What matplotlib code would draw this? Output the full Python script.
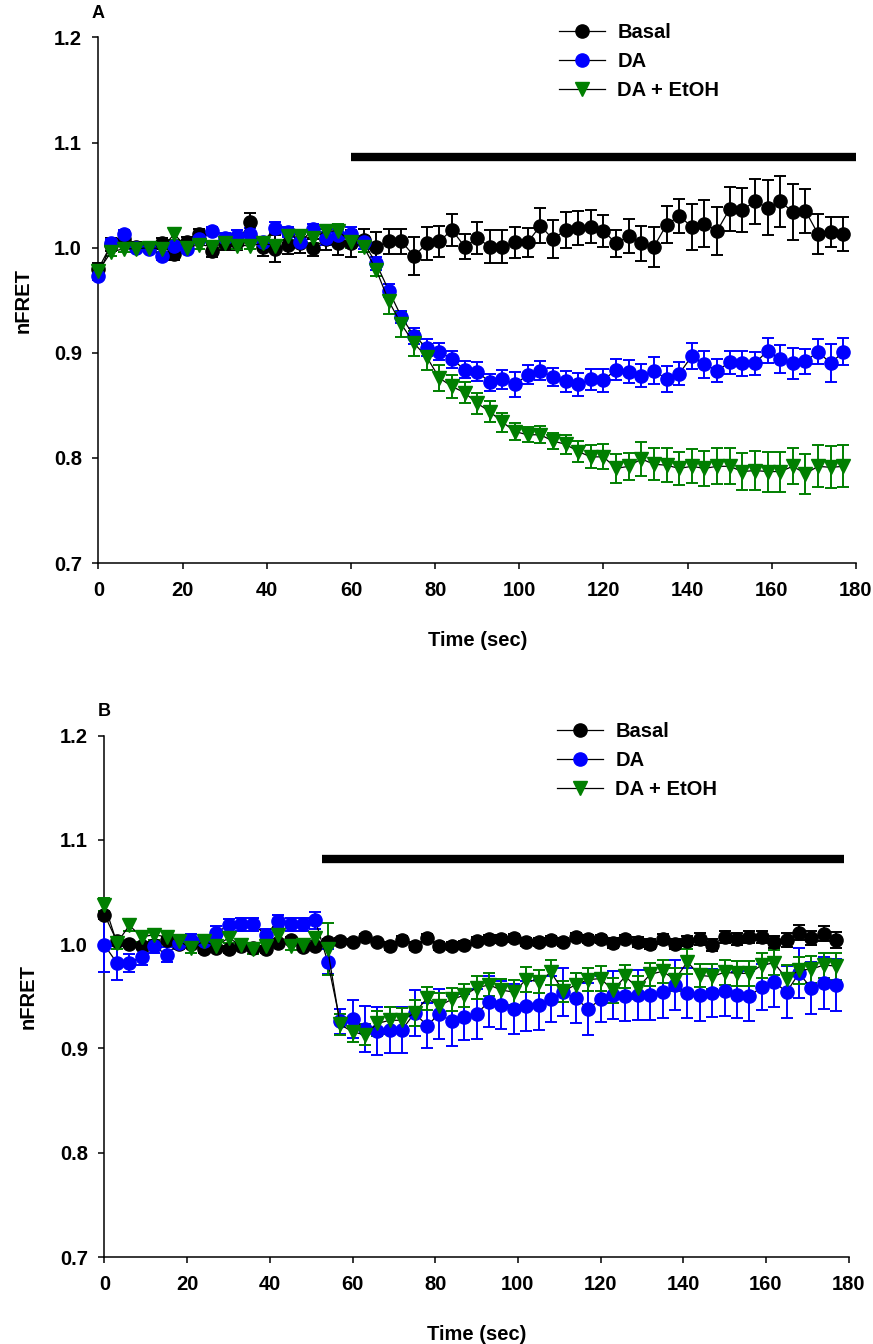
import numpy as np
import matplotlib
matplotlib.use("Agg")
import matplotlib.pyplot as plt

plt.rcParams["font.family"] = ["Liberation Sans", "DejaVu Sans"]
plt.rcParams["font.weight"] = "bold"

# sampling times (s), one reading every 3 s
TIME = [0, 3, 6, 9, 12, 15, 18, 21, 24, 27, 30, 33, 36, 39, 42, 45, 48, 51, 54, 57,
        60, 63, 66, 69, 72, 75, 78, 81, 84, 87, 90, 93, 96, 99, 102, 105, 108, 111, 114, 117,
        120, 123, 126, 129, 132, 135, 138, 141, 144, 147, 150, 153, 156, 159, 162, 165, 168, 171, 174, 177]

LABELS = ["Basal", "DA", "DA + EtOH"]

# panel A
A_BASAL = [0.980, 1.003, 1.008, 1.001, 1.000, 1.004, 0.994, 1.005, 1.013, 0.997,
           1.004, 1.005, 1.024, 1.001, 0.999, 1.003, 1.004, 1.000, 1.008, 1.004,
           1.004, 1.007, 1.001, 1.006, 1.006, 0.992, 1.004, 1.006, 1.017, 1.001,
           1.009, 1.001, 1.001, 1.005, 1.005, 1.021, 1.008, 1.017, 1.019, 1.020,
           1.016, 1.004, 1.011, 1.004, 1.001, 1.022, 1.030, 1.020, 1.023, 1.016,
           1.037, 1.036, 1.044, 1.038, 1.044, 1.034, 1.035, 1.013, 1.015, 1.013]
A_BASAL_SE = [0.005, 0.006, 0.006, 0.004, 0.004, 0.005, 0.006, 0.005, 0.005, 0.006,
              0.006, 0.007, 0.009, 0.009, 0.013, 0.009, 0.009, 0.008, 0.010, 0.011,
              0.013, 0.011, 0.014, 0.012, 0.012, 0.018, 0.016, 0.015, 0.015, 0.012,
              0.015, 0.016, 0.016, 0.015, 0.014, 0.017, 0.018, 0.017, 0.016, 0.016,
              0.015, 0.013, 0.016, 0.017, 0.019, 0.018, 0.016, 0.022, 0.022, 0.023,
              0.021, 0.021, 0.021, 0.026, 0.024, 0.027, 0.021, 0.019, 0.014, 0.016]
A_DA = [0.973, 1.004, 1.013, 1.000, 0.999, 0.992, 1.002, 0.999, 1.008, 1.016,
        1.009, 1.011, 1.013, 1.005, 1.019, 1.015, 1.005, 1.018, 1.009, 1.012,
        1.013, 1.005, 0.985, 0.959, 0.934, 0.916, 0.905, 0.901, 0.894, 0.884,
        0.882, 0.872, 0.875, 0.870, 0.879, 0.883, 0.877, 0.873, 0.870, 0.875,
        0.874, 0.884, 0.882, 0.878, 0.883, 0.875, 0.880, 0.897, 0.889, 0.883,
        0.891, 0.890, 0.890, 0.902, 0.894, 0.890, 0.892, 0.901, 0.890, 0.901]
A_DA_SE = [0.004, 0.004, 0.004, 0.003, 0.003, 0.004, 0.004, 0.004, 0.004, 0.004,
           0.005, 0.006, 0.006, 0.005, 0.005, 0.005, 0.004, 0.005, 0.006, 0.006,
           0.007, 0.006, 0.006, 0.006, 0.006, 0.008, 0.008, 0.008, 0.008, 0.008,
           0.009, 0.008, 0.009, 0.012, 0.009, 0.009, 0.009, 0.010, 0.011, 0.010,
           0.011, 0.010, 0.011, 0.011, 0.013, 0.012, 0.011, 0.012, 0.013, 0.011,
           0.011, 0.012, 0.011, 0.012, 0.013, 0.015, 0.012, 0.012, 0.018, 0.013]
A_ETOH = [0.978, 0.996, 0.999, 0.999, 1.000, 0.999, 1.013, 1.000, 1.003, 1.001,
          1.004, 1.002, 1.002, 1.004, 1.002, 1.011, 1.011, 1.009, 1.016, 1.016,
          1.005, 1.001, 0.979, 0.949, 0.927, 0.909, 0.896, 0.876, 0.868, 0.862,
          0.852, 0.844, 0.834, 0.825, 0.822, 0.822, 0.816, 0.813, 0.806, 0.801,
          0.801, 0.790, 0.792, 0.799, 0.794, 0.793, 0.790, 0.792, 0.790, 0.792,
          0.792, 0.787, 0.788, 0.787, 0.787, 0.792, 0.785, 0.792, 0.791, 0.792]
A_ETOH_SE = [0.006, 0.004, 0.003, 0.003, 0.003, 0.003, 0.006, 0.003, 0.004, 0.003,
             0.004, 0.003, 0.003, 0.004, 0.003, 0.004, 0.004, 0.005, 0.006, 0.007,
             0.005, 0.005, 0.006, 0.012, 0.012, 0.012, 0.012, 0.012, 0.011, 0.010,
             0.010, 0.010, 0.009, 0.008, 0.007, 0.008, 0.008, 0.009, 0.010, 0.011,
             0.012, 0.014, 0.013, 0.016, 0.015, 0.016, 0.016, 0.016, 0.017, 0.017,
             0.017, 0.018, 0.019, 0.019, 0.019, 0.017, 0.019, 0.020, 0.020, 0.020]

# panel B
B_BASAL = [1.028, 1.003, 1.000, 0.998, 0.999, 1.004, 1.000, 1.000, 0.995, 0.996,
           0.995, 0.998, 0.996, 0.995, 1.001, 1.004, 0.997, 0.998, 1.002, 1.003,
           1.002, 1.007, 1.002, 0.998, 1.004, 0.998, 1.006, 0.998, 0.998, 0.999,
           1.003, 1.005, 1.005, 1.006, 1.002, 1.002, 1.004, 1.002, 1.007, 1.005,
           1.005, 1.001, 1.005, 1.002, 1.000, 1.005, 1.000, 1.003, 1.005, 0.999,
           1.007, 1.005, 1.007, 1.007, 1.002, 1.004, 1.011, 1.006, 1.010, 1.004]
B_BASAL_SE = [0.004, 0.004, 0.003, 0.003, 0.003, 0.003, 0.003, 0.003, 0.003, 0.003,
              0.003, 0.003, 0.003, 0.003, 0.003, 0.003, 0.003, 0.003, 0.003, 0.003,
              0.003, 0.003, 0.003, 0.004, 0.004, 0.004, 0.004, 0.004, 0.004, 0.004,
              0.004, 0.004, 0.004, 0.004, 0.004, 0.004, 0.004, 0.004, 0.004, 0.004,
              0.004, 0.005, 0.004, 0.005, 0.005, 0.005, 0.005, 0.005, 0.006, 0.006,
              0.006, 0.006, 0.006, 0.006, 0.006, 0.007, 0.007, 0.007, 0.007, 0.008]
B_DA = [0.999, 0.982, 0.982, 0.988, 0.998, 0.990, 1.001, 1.004, 1.003, 1.011,
        1.018, 1.019, 1.019, 1.009, 1.022, 1.019, 1.019, 1.023, 0.983, 0.926,
        0.928, 0.919, 0.917, 0.918, 0.918, 0.934, 0.922, 0.933, 0.926, 0.930,
        0.933, 0.945, 0.942, 0.938, 0.941, 0.942, 0.947, 0.954, 0.948, 0.938,
        0.947, 0.951, 0.950, 0.951, 0.951, 0.954, 0.961, 0.953, 0.951, 0.953,
        0.955, 0.951, 0.950, 0.959, 0.964, 0.954, 0.972, 0.958, 0.963, 0.961]
B_DA_SE = [0.026, 0.016, 0.009, 0.008, 0.006, 0.007, 0.006, 0.006, 0.006, 0.006,
           0.006, 0.006, 0.006, 0.006, 0.006, 0.006, 0.006, 0.008, 0.012, 0.012,
           0.018, 0.022, 0.023, 0.022, 0.022, 0.022, 0.022, 0.024, 0.024, 0.022,
           0.024, 0.024, 0.023, 0.024, 0.024, 0.024, 0.022, 0.023, 0.024, 0.025,
           0.022, 0.023, 0.024, 0.024, 0.024, 0.025, 0.024, 0.024, 0.025, 0.023,
           0.024, 0.022, 0.024, 0.022, 0.024, 0.025, 0.024, 0.025, 0.025, 0.025]
B_ETOH = [1.038, 1.001, 1.018, 1.007, 1.009, 1.007, 1.003, 0.996, 1.003, 0.998,
          1.006, 0.999, 0.995, 0.998, 1.009, 0.998, 0.999, 1.006, 0.995, 0.923,
          0.916, 0.913, 0.924, 0.927, 0.927, 0.934, 0.948, 0.941, 0.947, 0.951,
          0.958, 0.961, 0.956, 0.954, 0.966, 0.964, 0.973, 0.955, 0.961, 0.966,
          0.967, 0.956, 0.969, 0.958, 0.971, 0.974, 0.966, 0.983, 0.970, 0.969,
          0.973, 0.972, 0.972, 0.980, 0.982, 0.967, 0.975, 0.976, 0.980, 0.979]
B_ETOH_SE = [0.006, 0.006, 0.005, 0.005, 0.005, 0.005, 0.004, 0.004, 0.004, 0.004,
             0.005, 0.005, 0.004, 0.004, 0.005, 0.004, 0.004, 0.005, 0.025, 0.010,
             0.010, 0.010, 0.012, 0.013, 0.012, 0.012, 0.011, 0.012, 0.011, 0.011,
             0.011, 0.011, 0.011, 0.012, 0.012, 0.011, 0.012, 0.010, 0.011, 0.011,
             0.012, 0.012, 0.011, 0.011, 0.011, 0.011, 0.011, 0.012, 0.011, 0.012,
             0.012, 0.012, 0.012, 0.012, 0.012, 0.013, 0.013, 0.013, 0.012, 0.013]

# drug application bar: (start s, end s, nFRET level)
A_BAR = (60, 180, 1.086)
B_BAR = (52.5, 179, 1.082)

COLORS = ["black", "#0000FF", "#007F00"]
MARKERS = ["o", "o", "v"]

fig = plt.figure(figsize=(8.73, 13.44), dpi=100)
axA = fig.add_axes([0.1128, 0.5811, 0.8677, 0.3910])
axB = fig.add_axes([0.1197, 0.0647, 0.8523, 0.3880])


def draw(ax, series, errs, bar, letter, leg_xy, ylab_x):
    for y, e, c, m, lab in zip(series, errs, COLORS, MARKERS, LABELS):
        ax.errorbar(TIME, y, yerr=e, fmt="none", ecolor=c, elinewidth=1.4,
                    capsize=4.5, capthick=1.4, clip_on=False, zorder=3)
        ax.plot(TIME, y, color="black", lw=0.9, marker=m, ms=9.5, mfc=c, mec=c,
                label=lab, clip_on=False, zorder=4)
    ax.plot([bar[0], bar[1]], [bar[2], bar[2]], color="black", lw=6,
            solid_capstyle="butt")
    ax.set_xlim(0, 180)
    ax.set_ylim(0.7, 1.2)
    ax.set_xticks([0, 20, 40, 60, 80, 100, 120, 140, 160, 180])
    ax.set_yticks([0.7, 0.8, 0.9, 1.0, 1.1, 1.2])
    ax.set_yticklabels(["0.7", "0.8", "0.9", "1.0", "1.1", "1.2"])
    ax.spines["top"].set_visible(False)
    ax.spines["right"].set_visible(False)
    for s in ["left", "bottom"]:
        ax.spines[s].set_linewidth(1.1)
    ax.tick_params(direction="out", length=4, width=1.1, labelsize=14.5)
    ax.tick_params(axis="x", pad=9)
    ax.tick_params(axis="y", pad=8)
    ax.set_xlabel("Time (sec)", fontsize=14.5, fontweight="bold")
    ax.set_ylabel("nFRET", fontsize=14.5, fontweight="bold")
    ax.xaxis.set_label_coords(0.5, -0.13)
    ax.yaxis.set_label_coords(ylab_x, 0.5)
    ax.text(0.0, 1.03, letter, transform=ax.transAxes, fontsize=13,
            fontweight="bold", ha="center", va="bottom")
    ax.legend(loc="upper left", bbox_to_anchor=leg_xy, bbox_transform=fig.transFigure,
              frameon=False, fontsize=14.5, handlelength=2.3, handletextpad=0.6,
              labelspacing=0.5, borderpad=0, borderaxespad=0)


draw(axA, [A_BASAL, A_DA, A_ETOH], [A_BASAL_SE, A_DA_SE, A_ETOH_SE], A_BAR, "A",
     (559 / 873, 1 - 23 / 1344), -0.087)
draw(axB, [B_BASAL, B_DA, B_ETOH], [B_BASAL_SE, B_DA_SE, B_ETOH_SE], B_BAR, "B",
     (557 / 873, 1 - 722 / 1344), -0.09)

fig.savefig("out.png", dpi=100)
print("done")
